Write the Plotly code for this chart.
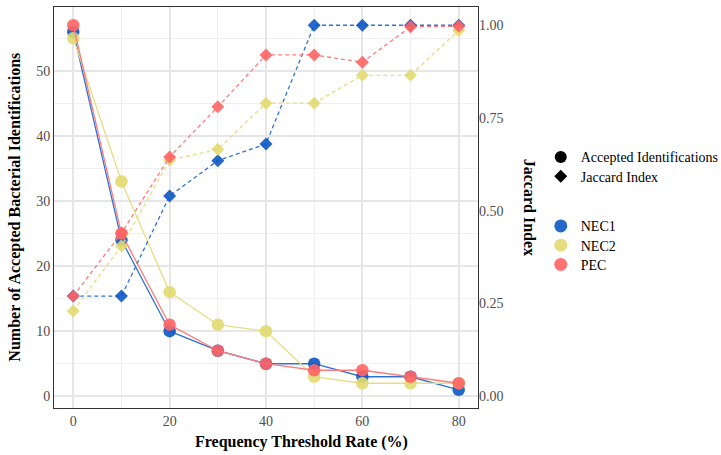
import plotly.graph_objects as go

# Frequency threshold rates (%)
thresholds = [0, 10, 20, 30, 40, 50, 60, 70, 80]

# Number of accepted bacterial identifications per sample
accepted_nec1 = [56, 24, 10, 7, 5, 5, 3, 3, 1]
accepted_nec2 = [55, 33, 16, 11, 10, 3, 2, 2, 2]
accepted_pec = [57, 25, 11, 7, 5, 4, 4, 3, 2]

# Jaccard index per sample
jaccard_nec1 = [0.27, 0.27, 0.54, 0.635, 0.68, 1.0, 1.0, 1.0, 1.0]
jaccard_nec2 = [0.23, 0.405, 0.636, 0.666, 0.79, 0.79, 0.865, 0.865, 0.986]
jaccard_pec = [0.27, 0.44, 0.645, 0.78, 0.92, 0.92, 0.90, 0.996, 0.997]

samples = ["NEC1", "NEC2", "PEC"]
measures = ["Accepted Identifications", "Jaccard Index"]
x_ticks = [0, 20, 40, 60, 80]
y_ticks = [0, 10, 20, 30, 40, 50]
y2_ticks = [0.0, 0.25, 0.5, 0.75, 1.0]

marker_colors = {"NEC1": "rgba(12,88,196,0.9)", "NEC2": "rgba(226,218,112,0.9)",
                 "PEC": "rgba(255,100,100,0.9)"}
line_colors = {"NEC1": "#2F74D4", "NEC2": "#E6DE86", "PEC": "#FF7C7C"}

accepted = {"NEC1": accepted_nec1, "NEC2": accepted_nec2, "PEC": accepted_pec}
jaccard = {"NEC1": jaccard_nec1, "NEC2": jaccard_nec2, "PEC": jaccard_pec}

# secondary axis is the primary axis divided by the maximum count
scale = max(max(v) for v in accepted.values())
y_lo, y_hi = -1.8, 59.8

SERIF = "Liberation Serif, Times New Roman, serif"
fig = go.Figure()

for s in samples:
    fig.add_trace(go.Scatter(
        x=thresholds, y=accepted[s], mode="lines+markers", showlegend=False,
        line=dict(color=line_colors[s], width=1.3),
        marker=dict(symbol="circle", size=12.5, color=marker_colors[s], line=dict(width=0)),
    ))
for s in samples:
    fig.add_trace(go.Scatter(
        x=thresholds, y=jaccard[s], yaxis="y2", mode="lines+markers", showlegend=False,
        line=dict(color=line_colors[s], width=1.3, dash="4px,3px"),
        marker=dict(symbol="diamond", size=10, color=marker_colors[s], line=dict(width=0)),
    ))

# one small legend per key entry so the spacing can be set freely
legend_names = ["legend", "legend2", "legend3", "legend4", "legend5"]
legend_tops = [0.665, 0.617, 0.493, 0.445, 0.397]

entries = [(measures[0], "circle", 12, "black"), (measures[1], "diamond", 10, "black")]
entries += [(s, "circle", 13, marker_colors[s]) for s in samples]
for (name, sym, size, col), lg in zip(entries, legend_names):
    fig.add_trace(go.Scatter(
        x=[None], y=[None], mode="markers", name=name, legend=lg,
        marker=dict(symbol=sym, size=size, color=col),
    ))

grid_major = "#E6E6E6"
grid_minor = "#F0F0F0"
tick_font = dict(family=SERIF, size=14, color="#4D4D4D")
legend_font = dict(family=SERIF, size=14, color="black")

legend_layout = {
    lg: dict(x=1.148, xanchor="left", y=top, yanchor="top", font=legend_font,
             bgcolor="rgba(0,0,0,0)")
    for lg, top in zip(legend_names, legend_tops)
}

fig.update_layout(
    width=721, height=455,
    font=dict(family=SERIF, size=14, color="black"),
    margin=dict(l=54, r=243, t=7, b=47, autoexpand=False),
    paper_bgcolor="white", plot_bgcolor="white",
    xaxis=dict(
        range=[-4, 84], tickvals=x_ticks, showgrid=True, gridcolor=grid_major, gridwidth=1.6,
        minor=dict(dtick=10, tick0=0, showgrid=True, gridcolor=grid_minor, gridwidth=0.9),
        showline=True, linecolor="#333333", linewidth=1, mirror=True,
        ticks="", tickfont=tick_font, zeroline=False,
    ),
    yaxis=dict(
        range=[y_lo, y_hi], tickvals=y_ticks, showgrid=True, gridcolor=grid_major, gridwidth=1.6,
        minor=dict(dtick=5, tick0=0, showgrid=True, gridcolor=grid_minor, gridwidth=0.9),
        showline=True, linecolor="#333333", linewidth=1, mirror=True,
        ticks="", tickfont=tick_font, zeroline=False,
    ),
    yaxis2=dict(
        range=[y_lo / scale, y_hi / scale], tickvals=y2_ticks, tickformat=".2f",
        overlaying="y", side="right", showgrid=False, zeroline=False,
        showline=False, ticks="", tickfont=tick_font,
    ),
    annotations=[
        dict(text="<b>Number of Accepted Bacterial Identifications</b>", xref="paper", yref="paper",
             x=-0.094, y=0.5, xanchor="center", yanchor="middle", textangle=-90, showarrow=False,
             font=dict(family=SERIF, size=16, color="black")),
        dict(text="<b>Jaccard Index</b>", xref="paper", yref="paper",
             x=1.122, y=0.5, xanchor="center", yanchor="middle", textangle=90, showarrow=False,
             font=dict(family=SERIF, size=16, color="black")),
        dict(text="<b>Frequency Threshold Rate (%)</b>", xref="paper", yref="paper",
             x=0.5837, y=-0.084, xanchor="center", yanchor="middle", showarrow=False,
             font=dict(family=SERIF, size=16, color="black")),
    ],
    **legend_layout,
)

fig.write_html("out.html")
